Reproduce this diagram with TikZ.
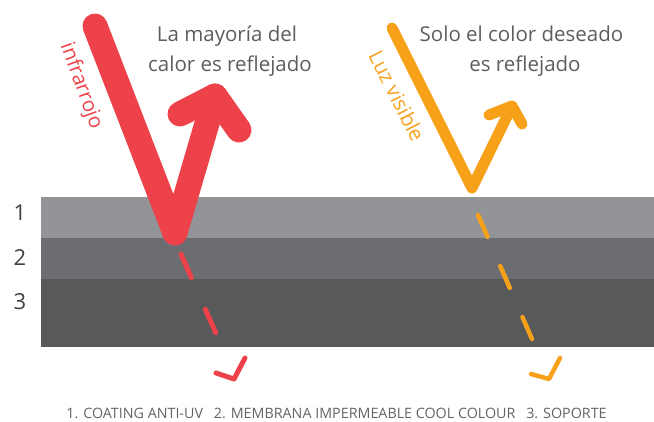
\documentclass[tikz,border=0pt]{standalone}
\usepackage{fontspec}
\setmainfont{Open Sans}
\definecolor{irred}{RGB}{238,66,74}
\definecolor{visor}{RGB}{247,161,27}
\definecolor{bandA}{RGB}{147,148,151}
\definecolor{bandB}{RGB}{108,109,113}
\definecolor{bandC}{RGB}{88,89,91}
\definecolor{txtgray}{RGB}{92,93,96}
\definecolor{numgray}{RGB}{65,64,66}
\definecolor{capgray}{RGB}{99,100,102}
\begin{document}
\begin{tikzpicture}[x=1pt,y=-1pt,
  ray/.style={line cap=round, line join=round},
  band/.style={anchor=north west, inner sep=0pt, minimum width=613pt, draw=none},
  maintext/.style={anchor=base, inner sep=0pt, text=txtgray, font=\fontsize{20.5}{24}\selectfont},
  sidelabel/.style={inner sep=0pt, font=\fontsize{20.5}{24}\selectfont},
  numlabel/.style={inner sep=0pt, text=numgray, font=\fontsize{22}{24}\selectfont},
  caplabel/.style={inner sep=0pt, text=capgray, font=\fontsize{14.3}{16}\selectfont}]
\useasboundingbox (0,0) rectangle (654,421);
% layers
\node[band, fill=bandA, minimum height=41pt] (layerA) at (41,197) {};
\node[band, fill=bandB, minimum height=41pt] (layerB) at (41,238) {};
\node[band, fill=bandC, minimum height=68pt] (layerC) at (41,279) {};
\node[numlabel] (n1) at (20,213) {1};
\node[numlabel] (n2) at (20,258) {2};
\node[numlabel] (n3) at (20,302) {3};
% red ray
\coordinate (rA) at (95,26);
\coordinate (rV) at (175,233);
\coordinate (rT) at (215,96);
\coordinate (rL) at (180,114);
\coordinate (rR) at (239,130);
\draw[ray, irred, line width=25pt] (rA) -- (rV) -- (rT);
\draw[ray, irred, line width=25pt] (rL) -- (rT) -- (rR);
\coordinate (rD1) at (181,254.3);
\coordinate (rD2) at (215.7,332.7);
\draw[ray, irred, line width=5pt, dash pattern=on 25.6pt off 34.5pt] (rD1) -- (rD2);
\coordinate (rH1) at (245,358);
\coordinate (rHt) at (234,379);
\coordinate (rH2) at (216,373);
\draw[ray, irred, line width=5pt] (rH1) -- (rHt) -- (rH2);
% orange ray
\coordinate (oA) at (392,28);
\coordinate (oV) at (472,188);
\coordinate (oT) at (512,106);
\coordinate (oL) at (489,115);
\coordinate (oR) at (522,124);
\draw[ray, visor, line width=11pt] (oA) -- (oV) -- (oT);
\draw[ray, visor, line width=11pt] (oL) -- (oT) -- (oR);
\coordinate (oD1) at (478,215);
\coordinate (oD2) at (532,339);
\draw[ray, visor, line width=4.5pt, dash pattern=on 23.8pt off 31.9pt] (oD1) -- (oD2);
\coordinate (oH1) at (560,358);
\coordinate (oHt) at (549,379);
\coordinate (oH2) at (531,374);
\draw[ray, visor, line width=4.5pt] (oH1) -- (oHt) -- (oH2);
% texts
\node[maintext] (t1a) at (227,41.7) {La mayoría del};
\node[maintext] (t1b) at (230,71.7) {calor es reflejado};
\node[maintext] (t2a) at (521.5,41.7) {Solo el color deseado};
\node[maintext] (t2b) at (525,71.7) {es reflejado};
\node[sidelabel, rotate=-70, text=irred] (lir) at (81,86) {infrarrojo};
\node[sidelabel, rotate=-63, text=visor] (lvis) at (397,96) {Luz visible};
\node[caplabel] (caption) at (336.5,413) {1. COATING ANTI-UV\hspace{0.5em} 2. MEMBRANA IMPERMEABLE COOL COLOUR\hspace{0.5em} 3. SOPORTE};
\end{tikzpicture}
\end{document}
